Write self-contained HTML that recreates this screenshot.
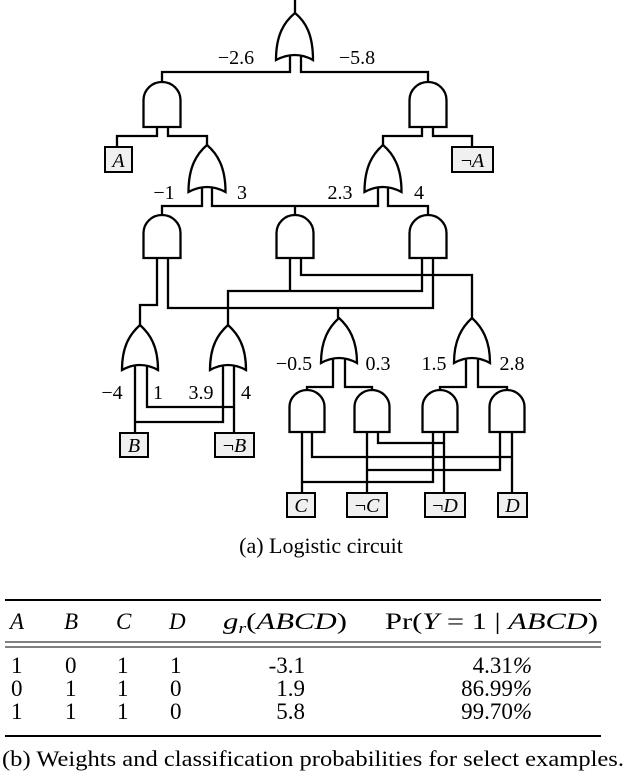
<!DOCTYPE html>
<html><head><meta charset="utf-8"><style>
html,body{margin:0;padding:0;background:#fff;}
svg{display:block;}
text{font-family:"Liberation Serif",serif;fill:#000;}
.it{font-style:italic;}
</style></head><body>
<svg width="624" height="772" viewBox="0 0 624 772" xmlns="http://www.w3.org/2000/svg">
<g fill="none" stroke="#000" stroke-width="2.3" stroke-linejoin="miter">
<line x1="295" y1="0" x2="295" y2="14"/>
<path d="M276,60 C276,35 284,22 295,13 C306,22 313,35 313,60 Q295,50 276,60 Z"/>
<polyline points="290,55 290,72 162,72 162,82"/>
<polyline points="301,55 301,72 428,72 428,82"/>
<path d="M143.5,127 V100 A18.5,18 0 0 1 180.5,100 V127 Z"/>
<path d="M409.5,127 V100 A18.5,18 0 0 1 446.5,100 V127 Z"/>
<polyline points="157,127 157,136 117,136 117,147"/>
<polyline points="168,127 168,136 207,136 207,145"/>
<polyline points="422,127 422,136 383,136 383,145"/>
<polyline points="433,127 433,136 472,136 472,147"/>
<path d="M188.5,192 C188.5,167 196.5,154 207,145 C217.5,154 225.5,167 225.5,192 Q207,182 188.5,192 Z"/>
<path d="M364.5,192 C364.5,167 372.5,154 383,145 C393.5,154 401.5,167 401.5,192 Q383,182 364.5,192 Z"/>
<polyline points="202,187 202,206 162,206 162,215"/>
<polyline points="212,187 212,206 378,206 378,187"/>
<polyline points="295,206 295,215"/>
<polyline points="388,187 388,206 428,206 428,215"/>
<path d="M143.5,258 V233 A18.5,18 0 0 1 180.5,233 V258 Z"/>
<path d="M276.5,258 V233 A18.5,18 0 0 1 313.5,233 V258 Z"/>
<path d="M409.5,258 V233 A18.5,18 0 0 1 446.5,233 V258 Z"/>
<polyline points="157,258 157,305 140,305 140,325"/>
<polyline points="168,258 168,308 433,308 433,258"/>
<polyline points="338,308 338,318"/>
<polyline points="290,258 290,291"/>
<polyline points="228,325 228,291 422,291 422,258"/>
<polyline points="301,258 301,275 472,275 472,318"/>
<path d="M122,370 C122,346 130,334 140,325 C150,334 158,346 158,370 Q140,360 122,370 Z"/>
<path d="M210,370 C210,346 218,334 228,325 C238,334 246,346 246,370 Q228,360 210,370 Z"/>
<polyline points="135,365 135,433"/>
<polyline points="147,365 147,407 234,407"/>
<polyline points="234,365 234,433"/>
<polyline points="223,365 223,422 135,422"/>
<path d="M321,363 C321,340 329,327 339,318 C349,327 357,340 357,363 Q339,353 321,363 Z"/>
<path d="M454,363 C454,340 462,327 472,318 C482,327 490,340 490,363 Q472,353 454,363 Z"/>
<polyline points="333,358 333,387 307,387 307,390"/>
<polyline points="345,358 345,387 372,387 372,390"/>
<polyline points="466,358 466,387 440,387 440,390"/>
<polyline points="478,358 478,387 507,387 507,390"/>
<path d="M289.5,432 V407 A17.5,17 0 0 1 324.5,407 V432 Z"/>
<path d="M354.5,432 V407 A17.5,17 0 0 1 389.5,407 V432 Z"/>
<path d="M422.5,432 V407 A17.5,17 0 0 1 457.5,407 V432 Z"/>
<path d="M489.5,432 V407 A17.5,17 0 0 1 524.5,407 V432 Z"/>
<polyline points="302,432 302,493"/>
<polyline points="302,482 433,482 433,432"/>
<polyline points="312,432 312,457 512,457"/>
<polyline points="512,432 512,493"/>
<polyline points="367,432 367,493"/>
<polyline points="367,470 500,470 500,432"/>
<polyline points="378,432 378,443 444,443"/>
<polyline points="444,432 444,493"/>
</g>
<g fill="#f0f0f0" stroke="#000" stroke-width="2">
<rect x="105" y="147" width="27" height="25"/>
<rect x="452" y="147" width="41" height="25"/>
<rect x="120" y="433" width="28" height="24"/>
<rect x="215" y="433" width="39" height="24"/>
<rect x="287" y="493" width="28" height="24"/>
<rect x="347" y="493" width="40" height="24"/>
<rect x="425" y="493" width="40" height="24"/>
<rect x="498" y="493" width="29" height="24"/>
</g>
<g font-size="20" text-anchor="middle">
<text x="118.5" y="167" class="it">A</text>
<text x="472.5" y="167">¬<tspan class="it">A</tspan></text>
<text x="134" y="452" class="it">B</text>
<text x="234.5" y="452">¬<tspan class="it">B</tspan></text>
<text x="301" y="512" class="it">C</text>
<text x="367" y="512">¬<tspan class="it">C</tspan></text>
<text x="445" y="512">¬<tspan class="it">D</tspan></text>
<text x="512.5" y="512" class="it">D</text>
</g>
<g font-size="20" text-anchor="middle">
<text x="236" y="64">−2.6</text>
<text x="357" y="64">−5.8</text>
<text x="164" y="199">−1</text>
<text x="242" y="199">3</text>
<text x="340" y="199">2.3</text>
<text x="419" y="199">4</text>
<text x="112" y="399">−4</text>
<text x="158" y="399">1</text>
<text x="201" y="399">3.9</text>
<text x="246" y="399">4</text>
<text x="294" y="370">−0.5</text>
<text x="378" y="370">0.3</text>
<text x="434" y="370">1.5</text>
<text x="512" y="370">2.8</text>
</g>
<text x="321" y="553" font-size="22" text-anchor="middle">(a) Logistic circuit</text>
<line x1="5" y1="600" x2="601" y2="600" stroke="#000" stroke-width="2"/>
<line x1="5" y1="642" x2="601" y2="642" stroke="#000" stroke-width="1"/>
<line x1="5" y1="647" x2="601" y2="647" stroke="#000" stroke-width="1"/>
<line x1="5" y1="736" x2="601" y2="736" stroke="#000" stroke-width="2"/>
<g font-size="23">
<text x="10" y="629" class="it">A</text>
<text x="64" y="629" class="it">B</text>
<text x="116" y="629" class="it">C</text>
<text x="169" y="629" class="it">D</text>
<text x="223" y="629" textLength="124" lengthAdjust="spacingAndGlyphs"><tspan class="it">g</tspan><tspan class="it" font-size="15" dy="4">r</tspan><tspan dy="-4">(</tspan><tspan class="it">ABCD</tspan>)</text>
<text x="385" y="629" textLength="213" lengthAdjust="spacingAndGlyphs">Pr(<tspan class="it">Y</tspan> = 1 | <tspan class="it">ABCD</tspan>)</text>
</g>
<g font-size="23">
<text x="11" y="673">1</text><text x="65" y="673">0</text><text x="117" y="673">1</text><text x="170" y="673">1</text>
<text x="11" y="696">0</text><text x="65" y="696">1</text><text x="117" y="696">1</text><text x="170" y="696">0</text>
<text x="11" y="719">1</text><text x="65" y="719">1</text><text x="117" y="719">1</text><text x="170" y="719">0</text>
<g text-anchor="end">
<text x="305" y="673">-3.1</text>
<text x="305" y="696">1.9</text>
<text x="305" y="719">5.8</text>
<text x="532" y="673">4.31<tspan class="it">%</tspan></text>
<text x="532" y="696">86.99<tspan class="it">%</tspan></text>
<text x="532" y="719">99.70<tspan class="it">%</tspan></text>
</g>
</g>
<text x="2" y="766" font-size="22" textLength="622" lengthAdjust="spacingAndGlyphs">(b) Weights and classification probabilities for select examples.</text>
</svg>
</body></html>
